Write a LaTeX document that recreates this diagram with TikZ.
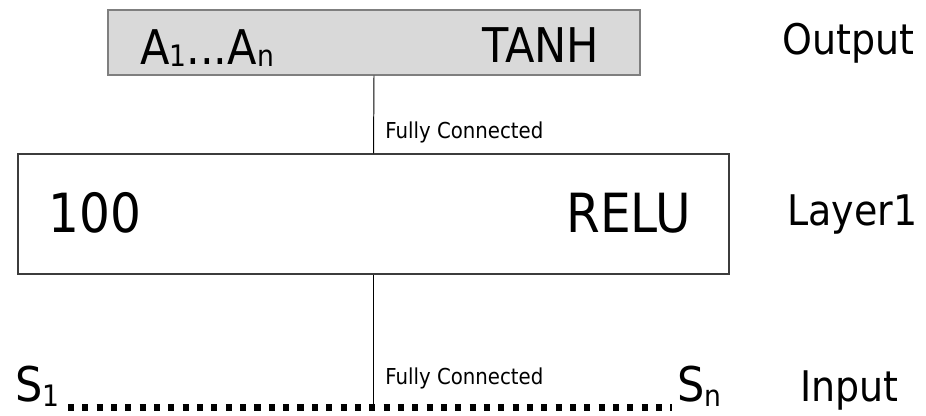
\documentclass[tikz,border=0pt]{standalone}
\usepackage{fontspec}
\setmainfont{DejaVu Sans}[FakeStretch=0.9]
\usetikzlibrary{positioning}
\definecolor{boxgray}{HTML}{D9D9D9}
\definecolor{edgegray}{HTML}{7F7F7F}
\definecolor{edgedark}{HTML}{3C3C3C}
\newcommand\lowidx[2]{\raisebox{-#1}{\fontsize{21}{21}\selectfont #2}}
\tikzset{
  outbox/.style={draw=edgegray,fill=boxgray,line width=1pt,inner sep=0pt,
                 minimum width=13.3cm,minimum height=1.625cm},
  layerbox/.style={draw=edgedark,fill=white,line width=1pt,inner sep=0pt,
                   minimum width=17.775cm,minimum height=3cm},
  bigtxt/.style={anchor=base west,inner sep=0pt,font=\fontsize{34}{40}\selectfont},
  hugetxt/.style={anchor=base west,inner sep=0pt,font=\fontsize{38.4}{44}\selectfont},
  sidetxt/.style={anchor=base west,inner sep=0pt,font=\fontsize{30}{36}\selectfont},
  smalltxt/.style={anchor=base west,inner sep=0pt,font=\fontsize{15.6}{18}\selectfont},
  link/.style={draw=black,line width=0.7pt},
  dotrow/.style={draw=black,line width=4.3pt,dash pattern=on 4.3pt off 5.9pt}
}
\begin{document}
\begin{tikzpicture}[x=0.025cm,y=-0.025cm]
    \path[use as bounding box] (0,0) rectangle (926,415);
    % output layer
    \node[outbox] (outbox) at (374,42.5) {};
    \node[bigtxt] (alist) at (140,64) {A\lowidx{2pt}{1}...A\lowidx{2pt}{n}};
    \node[bigtxt] (tanh) at (482,62) {TANH};
    \node[sidetxt] (outlbl) at (782,54) {Output};
    % hidden layer
    \node[layerbox] (layerbox) at (373.5,214) {};
    \node[hugetxt] (units) at (48,232) {100};
    \node[hugetxt] (relu) at (566,232) {RELU};
    \node[sidetxt] (layerlbl) at (787,225) {Layer1};
    % input row
    \node[bigtxt] (sfirst) at (15,401) {S\lowidx{4pt}{1}};
    \node[bigtxt] (slast) at (677,401) {S\lowidx{4pt}{n}};
    \node[sidetxt] (inlbl) at (800,401) {Input};
    \coordinate (dotl) at (68,407.5);
    \coordinate (dotr) at (672,407.5);
    \draw[dotrow] (dotl) -- (dotr);
    \coordinate (fcin) at (layerbox.south |- dotl);
    % connectors
    \draw[link] (outbox.south) -- (layerbox.north);
    \draw[link] (layerbox.south) -- (fcin);
    \node[smalltxt] (fcup) at (385,138) {Fully Connected};
    \node[smalltxt] (fcdown) at (385,384) {Fully Connected};
  \end{tikzpicture}
\end{document}
